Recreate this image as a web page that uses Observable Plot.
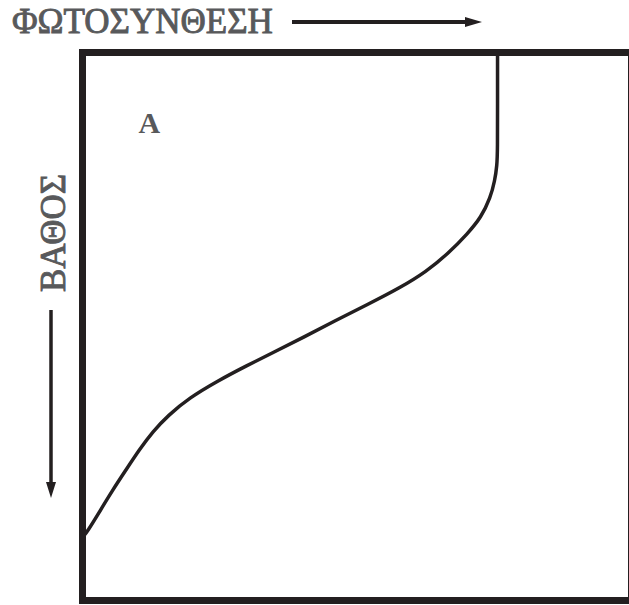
<!DOCTYPE html>
<html>
<head>
<meta charset="utf-8">
<script src="https://cdn.jsdelivr.net/npm/d3@7"></script>
<script src="https://cdn.jsdelivr.net/npm/@observablehq/plot@0.6"></script>
<style>
  html, body { margin: 0; padding: 0; background: #fff; overflow: hidden; }
  #wrap { position: relative; width: 629px; height: 605px; }
  #chart { position: absolute; left: 0; top: 40px; }
  #overlay { position: absolute; left: 0; top: 0; pointer-events: none; }
</style>
</head>
<body>
<div id="wrap">
  <div id="chart"></div>
  <svg id="overlay" width="629" height="605"></svg>
</div>
<script>
// Data (photosynthesis 0–100 across, depth 0–100 down)
const photosynthesis = [75.6, 75.6, 75.6, 75.5, 75.1, 74.3, 72.6, 70.2, 66.6, 62.6, 57.9, 51.9, 45.9, 40.2, 35.0, 29.8, 24.5, 19.5, 15.6, 12.8, 10.4, 7.9, 5.4, 3.1, 0.9, 0];
const depth =          [0,    8.8,  17.9, 20.6, 23.4, 26.5, 30.1, 33.0, 36.7, 40.0, 42.9, 46.0, 49.0, 52.0, 54.6, 57.2, 60.0, 63.0, 66.2, 69.2, 72.4, 76.2, 80.0, 83.8, 87.4, 88.5];
const panelLabels = ["A"];
const titleText = "ΦΩΤΟΣΥΝΘΕΣΗ";
const yLabelText = "ΒΑΘΟΣ";

const rows = photosynthesis.map((p, i) => ({p, d: depth[i]}));
const ink = "#231f20";
const grey = "#58595b";
const serif = "'Liberation Serif', 'DejaVu Serif', serif";

const chart = Plot.plot({
  width: 629,
  height: 565,
  marginLeft: 82,
  marginRight: -2,
  marginTop: 12,
  marginBottom: 5,
  style: {background: "transparent", overflow: "visible"},
  x: {domain: [0, 100], axis: null},
  y: {domain: [0, 100], reverse: true, axis: null},
  marks: [
    Plot.line(rows, {x: "p", y: "d", curve: "basis", stroke: ink, strokeWidth: 3.5}),
    Plot.text(panelLabels, {text: d => d, frameAnchor: "top-left", dx: 56, dy: 59,
      fontSize: 30, fontWeight: "bold", fontFamily: serif, fill: grey}),
    Plot.frame({stroke: ink, strokeWidth: 7})
  ]
});
document.getElementById("chart").append(chart);

// Axis annotations (title, depth label, direction arrows)
const ov = d3.select("#overlay");
ov.append("text").attr("x", 12).attr("y", 33)
  .attr("font-family", serif).attr("font-size", 35).attr("fill", grey)
  .attr("stroke", grey).attr("stroke-width", 0.9)
  .text(titleText);
ov.append("line").attr("x1", 292).attr("y1", 22).attr("x2", 468).attr("y2", 22)
  .attr("stroke", ink).attr("stroke-width", 4);
ov.append("polygon").attr("points", "465,17 482,22 465,27").attr("fill", ink);

ov.append("text").attr("transform", "translate(65,233) rotate(-90)")
  .attr("text-anchor", "middle")
  .attr("font-family", serif).attr("font-size", 35).attr("fill", grey)
  .attr("stroke", grey).attr("stroke-width", 0.9)
  .text(yLabelText);
ov.append("line").attr("x1", 51).attr("y1", 310).attr("x2", 51).attr("y2", 485)
  .attr("stroke", ink).attr("stroke-width", 3.5);
ov.append("polygon").attr("points", "46,482 51,498 56,482").attr("fill", ink);
</script>
</body>
</html>
